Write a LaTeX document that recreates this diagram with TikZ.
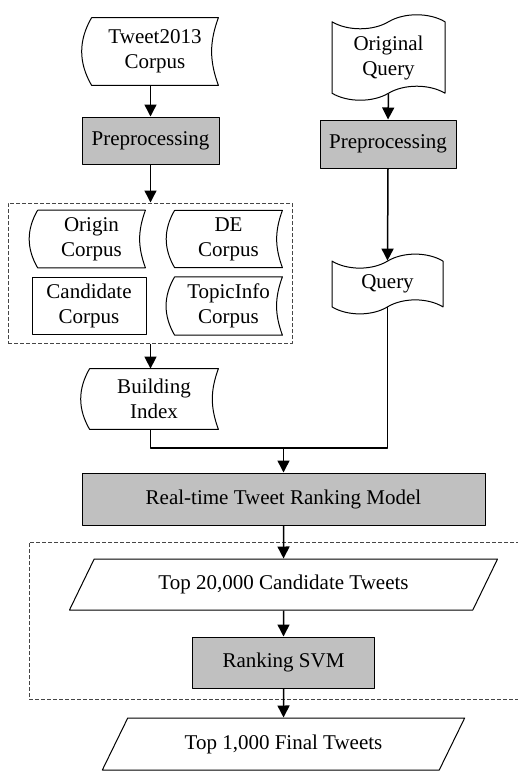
\documentclass[tikz,border=0pt]{standalone}
\usepackage{fontspec}
\setmainfont{Liberation Serif}
\usepackage{tikz}
\usetikzlibrary{arrows.meta}
\usetikzlibrary{shapes.symbols}
\usetikzlibrary{shapes.geometric}

\begin{document}
\begin{tikzpicture}[
    >=Latex,
    line join=round,
    font=\fontsize{10.5}{12.5}\selectfont,
    x=0.5pt,
    y=-0.5pt
]

% =========================================================
% Colors
% =========================================================
\definecolor{procgray}{RGB}{192,192,192}
\definecolor{framegray}{RGB}{70,70,70}

% =========================================================
% Styles
% =========================================================
\tikzset{
    outline/.style={black,line width=0.5pt},
    procbox/.style={rectangle,draw,outline,fill=procgray,align=center},
    plainbox/.style={rectangle,draw,outline,align=center},
    stored/.style={rectangle,align=center,
        append after command={\pgfextra{
            \draw[outline] (\tikzlastnode.north west) -- (\tikzlastnode.north east)
                to[bend right=20] (\tikzlastnode.south east)
                -- (\tikzlastnode.south west)
                to[bend left=30] (\tikzlastnode.north west);}}},
    docbox/.style={tape,draw,outline,align=center,tape bend height=7pt},
    iobox/.style={trapezium,draw,outline,align=center,
        trapezium left angle=62,trapezium right angle=118,
        trapezium stretches=true},
    groupbox/.style={rectangle,draw=framegray,line width=0.5pt,
        dash pattern=on 2pt off 1pt},
    flow/.style={->,line width=0.75pt,
        arrows={-Triangle[length=6pt,width=6pt]}},
    joinline/.style={line width=0.75pt}
}

\useasboundingbox (0,0) rectangle (518,771);

% =========================================================
% Left column: corpus
% =========================================================
\node[stored,minimum width=63pt,minimum height=33.5pt]
    (tweet) at (155,51.5) {Tweet2013\\Corpus};
\node[procbox,minimum width=68.5pt,minimum height=23.5pt]
    (prepL) at (150.5,140.5) {Preprocessing};

% grouped corpora
\node[groupbox,minimum width=142pt,minimum height=70pt]
    (grpA) at (150,273) {};
\node[stored,minimum width=53.5pt,minimum height=26pt]
    (origin) at (91.5,239) {Origin\\Corpus};
\node[stored,minimum width=53.5pt,minimum height=26pt]
    (de) at (228.5,239) {DE\\Corpus};
\node[plainbox,minimum width=57pt,minimum height=26pt]
    (cand) at (89,306) {Candidate\\Corpus};
\node[stored,minimum width=53.5pt,minimum height=26pt]
    (topic) at (228.5,306) {TopicInfo\\Corpus};

\node[stored,minimum width=64pt,minimum height=30pt]
    (index) at (154,399) {Building\\Index};

% =========================================================
% Right column: query
% =========================================================
\node[docbox,minimum width=56.5pt,minimum height=39.5pt]
    (orig) at (388.5,57.5) {Original\\Query};
\node[procbox,minimum width=68pt,minimum height=24pt]
    (prepR) at (388,144) {Preprocessing};
\node[docbox,minimum width=55.5pt,minimum height=27.5pt]
    (query) at (387.5,284) {Query};

% =========================================================
% Ranking
% =========================================================
\coordinate (join) at (283.5,448);
\node[procbox,minimum width=201.5pt,minimum height=26pt]
    (model) at (283.5,499) {Real-time Tweet Ranking Model};

% right edge runs off the page
\node[groupbox,minimum width=256pt,minimum height=78.5pt]
    (grpB) at (285,620.5) {};
\node[iobox,minimum width=214.5pt,minimum height=25.5pt]
    (top20k) at (283.5,584.5) {Top 20,000 Candidate Tweets};
\node[procbox,minimum width=91pt,minimum height=25.5pt]
    (svm) at (283.5,662.5) {Ranking SVM};
\node[iobox,minimum width=181.5pt,minimum height=26pt]
    (final) at (283.5,744) {Top 1,000 Final Tweets};

% =========================================================
% Connectors
% =========================================================
\draw[flow] (tweet.south -| prepL.north) -- (prepL.north);
\draw[flow] (prepL.south) -- (grpA.north -| prepL.south);
\draw[flow] (grpA.south -| prepL.south) -- (index.north -| prepL.south);

\draw[flow] (orig.south) -- (prepR.north);
\draw[flow] (prepR.south) -- (query.north);

\draw[joinline] (index.south -| prepL.south) |- (join);
\draw[joinline] (query.south) |- (join);
\draw[flow] (join) -- (model.north);

\draw[flow] (model.south) -- (top20k.north);
\draw[flow] (top20k.south) -- (svm.north);
\draw[flow] (svm.south) -- (final.north);

\end{tikzpicture}
\end{document}
